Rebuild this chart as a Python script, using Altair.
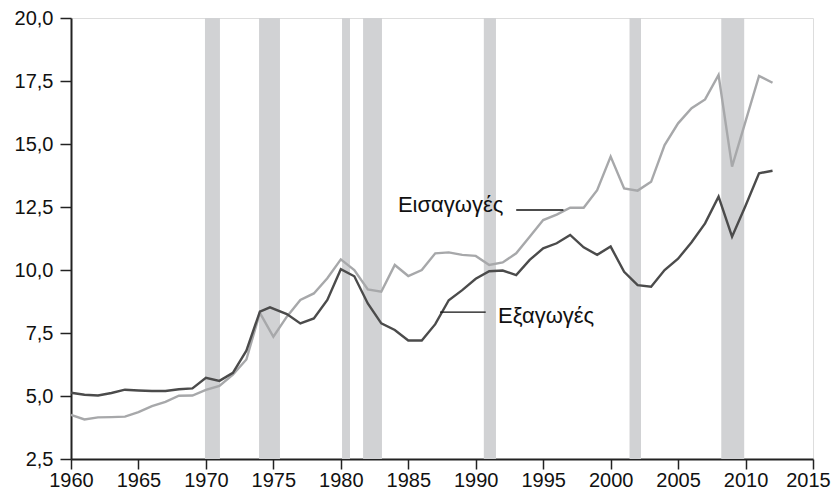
import altair as alt
import pandas as pd

# Exports (Εξαγωγές), % of GDP
exp_years = [1960, 1961, 1962, 1963, 1964, 1965, 1966, 1967, 1968, 1969, 1970, 1971, 1972, 1973,
             1974, 1974.75, 1976, 1977, 1978, 1979, 1980, 1981, 1982, 1983, 1984, 1985, 1986,
             1987, 1988, 1989, 1990, 1991, 1992, 1993, 1994, 1995, 1996, 1997, 1998, 1999,
             2000, 2001, 2002, 2003, 2004, 2005, 2006, 2007, 2008, 2009, 2010, 2011, 2012]
exports = [5.13, 5.05, 5.02, 5.12, 5.25, 5.22, 5.2, 5.2, 5.27, 5.3, 5.72, 5.6, 5.92, 6.8,
           8.35, 8.52, 8.25, 7.88, 8.08, 8.81, 10.03, 9.75, 8.67, 7.88, 7.62, 7.2, 7.2,
           7.85, 8.8, 9.2, 9.65, 9.95, 9.98, 9.8, 10.4, 10.86, 11.06, 11.39, 10.9, 10.6,
           10.93, 9.93, 9.4, 9.34, 10.0, 10.45, 11.1, 11.85, 12.91, 11.32, 12.55, 13.84, 13.94]

# Imports (Εισαγωγές), % of GDP
imp_years = list(range(1960, 2013))
imports = [4.25, 4.07, 4.15, 4.16, 4.18, 4.36, 4.6, 4.77, 5.01, 5.02, 5.24, 5.4, 5.85, 6.45,
           8.3, 7.35, 8.15, 8.81, 9.07, 9.67, 10.42, 10.0, 9.23, 9.14, 10.2, 9.76, 10.0,
           10.66, 10.7, 10.6, 10.56, 10.2, 10.3, 10.66, 11.32, 11.98, 12.2, 12.47, 12.47, 13.17,
           14.5, 13.24, 13.15, 13.5, 14.96, 15.82, 16.42, 16.77, 17.74, 14.1, 15.9, 17.7, 17.43]

# Recession periods
rec_start = [1969.93, 1973.94, 1980.09, 1981.65, 1990.6, 2001.4, 2008.2]
rec_end = [1971.04, 1975.49, 1980.68, 1983.05, 1991.5, 2002.25, 2009.9]

y_ticks = [2.5, 5.0, 7.5, 10.0, 12.5, 15.0, 17.5, 20.0]
x_ticks = list(range(1960, 2016, 5))

FONT = "Liberation Sans"
FS = 20
FS_LAB = 22

xs = alt.Scale(domain=[1960, 2015], nice=False, zero=False)
ys = alt.Scale(domain=[2.5, 20.0], nice=False, zero=False)

rec_df = pd.DataFrame({"start": rec_start, "end": rec_end, "lo": 2.5, "hi": 20.0})
exp_df = pd.DataFrame({"year": exp_years, "value": exports})
imp_df = pd.DataFrame({"year": imp_years, "value": imports})

x_axis = alt.Axis(values=x_ticks, format="d", title=None, grid=False, domainColor="#222",
                  domainWidth=2, tickColor="#222", tickWidth=1.5, tickSize=10,
                  labelFont=FONT, labelFontSize=FS, labelColor="#111", labelPadding=1,
                  labelFlush=False,
                  labelOffset={"condition": {"test": "datum.value == 2015", "value": -5},
                               "value": 0})
y_axis = alt.Axis(values=y_ticks, title=None, grid=False, domainColor="#222",
                  domainWidth=2, tickColor="#222", tickWidth=1.5, tickSize=11,
                  labelFont=FONT, labelFontSize=FS, labelColor="#111", labelPadding=7,
                  labelExpr="replace(format(datum.value, '.1f'), '.', ',')")

bars = alt.Chart(rec_df).mark_rect(color="#d1d2d4").encode(
    x=alt.X("start:Q", scale=xs, axis=x_axis),
    x2="end:Q",
    y=alt.Y("lo:Q", scale=ys, axis=y_axis),
    y2="hi:Q",
)

imp_line = alt.Chart(imp_df).mark_line(color="#a7a8aa", strokeWidth=2.4).encode(
    x=alt.X("year:Q", scale=xs), y=alt.Y("value:Q", scale=ys))
exp_line = alt.Chart(exp_df).mark_line(color="#4b4b4b", strokeWidth=2.4).encode(
    x=alt.X("year:Q", scale=xs), y=alt.Y("value:Q", scale=ys))

# Annotations (positions in data units)
lab_df = pd.DataFrame({
    "x": [1992.05, 1991.65], "y": [12.31, 7.90],
    "text": ["Εισαγωγές", "Εξαγωγές"],
})
lead_df = pd.DataFrame({"x": [1993.0, 1987.35], "x2": [1996.5, 1990.74], "y": [12.38, 8.33]})

lab_r = alt.Chart(lab_df.iloc[[0]]).mark_text(font=FONT, fontSize=FS_LAB, align="right",
                                               baseline="alphabetic", color="#111").encode(
    x=alt.X("x:Q", scale=xs), y=alt.Y("y:Q", scale=ys), text="text:N")
lab_l = alt.Chart(lab_df.iloc[[1]]).mark_text(font=FONT, fontSize=FS_LAB, align="left",
                                               baseline="alphabetic", color="#111").encode(
    x=alt.X("x:Q", scale=xs), y=alt.Y("y:Q", scale=ys), text="text:N")
leads = alt.Chart(lead_df).mark_rule(color="#111", strokeWidth=1.3).encode(
    x=alt.X("x:Q", scale=xs), x2="x2:Q", y=alt.Y("y:Q", scale=ys))

chart = alt.layer(bars, imp_line, exp_line, leads, lab_r, lab_l).properties(
    width=742, height=441,
    autosize=alt.AutoSizeParams(type="none"),
    padding={"left": 63, "top": 10, "right": 18, "bottom": 31},
).configure_view(stroke=None).configure(background="white")

chart.save("out.html", embed_options={"renderer": "svg", "actions": False})
